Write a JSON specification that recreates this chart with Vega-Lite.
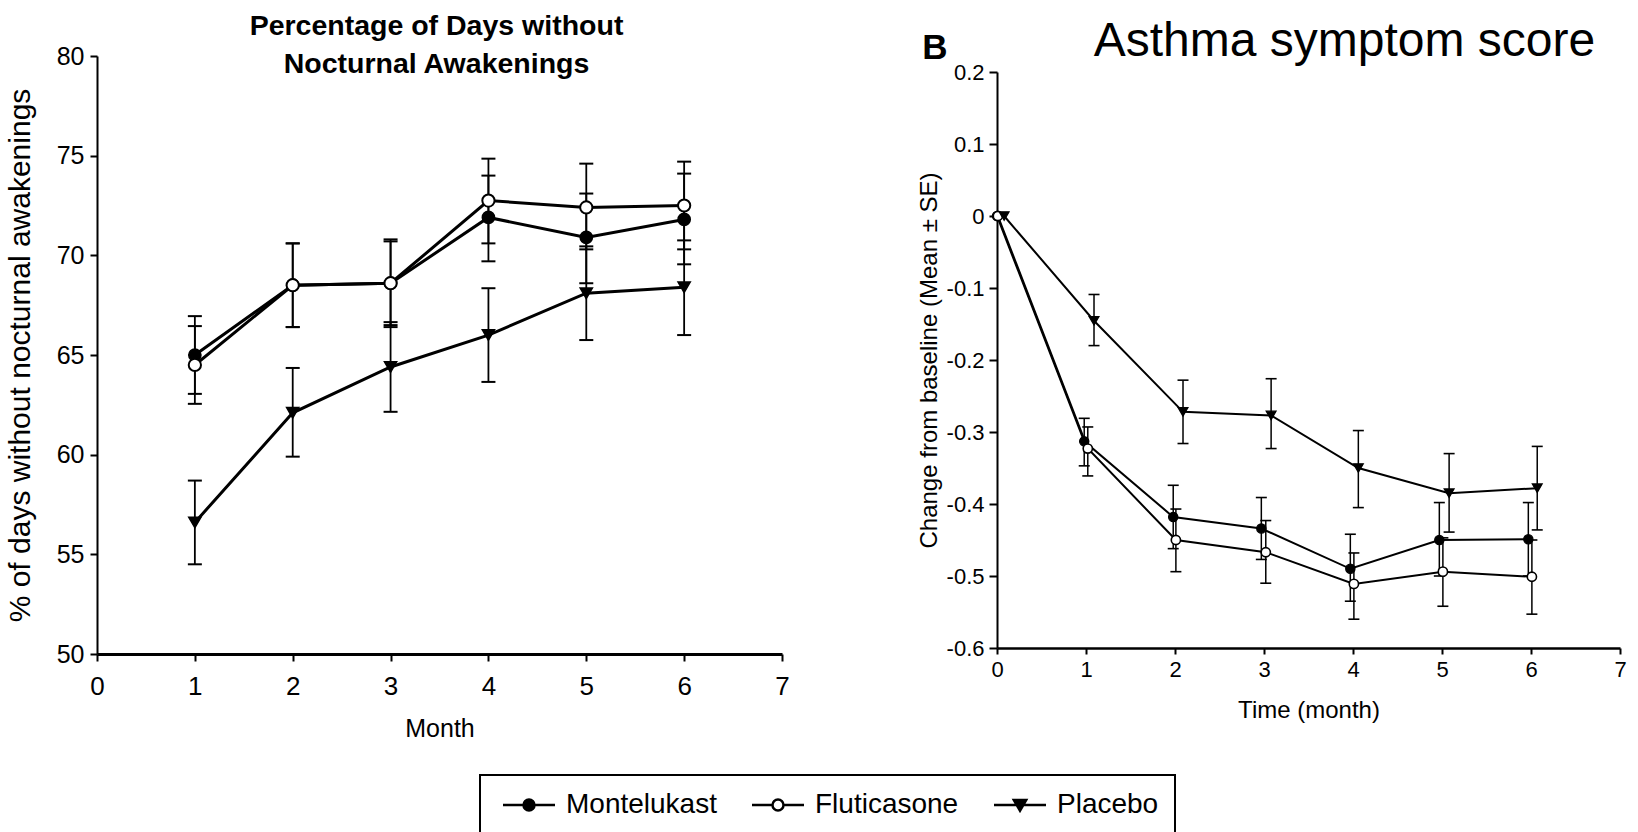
{
  "$schema": "https://vega.github.io/schema/vega-lite/v6.json",
  "background": "white",
  "autosize": {"type": "pad"},
  "padding": {"left": 5, "top": 11, "right": 0, "bottom": 0},
  "datasets": {
    "nocturnal": [
      {"drug": "Montelukast", "month": 1, "mean": 65.0, "lo": 63.05, "hi": 66.95},
      {"drug": "Montelukast", "month": 2, "mean": 68.5, "lo": 66.4, "hi": 70.6},
      {"drug": "Montelukast", "month": 3, "mean": 68.6, "lo": 66.5, "hi": 70.7},
      {"drug": "Montelukast", "month": 4, "mean": 71.9, "lo": 69.7, "hi": 74.0},
      {"drug": "Montelukast", "month": 5, "mean": 70.9, "lo": 68.6, "hi": 73.1},
      {"drug": "Montelukast", "month": 6, "mean": 71.8, "lo": 69.55, "hi": 74.1},
      {"drug": "Fluticasone", "month": 1, "mean": 64.5, "lo": 62.55, "hi": 66.45},
      {"drug": "Fluticasone", "month": 2, "mean": 68.5, "lo": 66.4, "hi": 70.6},
      {"drug": "Fluticasone", "month": 3, "mean": 68.6, "lo": 66.4, "hi": 70.8},
      {"drug": "Fluticasone", "month": 4, "mean": 72.75, "lo": 70.6, "hi": 74.85},
      {"drug": "Fluticasone", "month": 5, "mean": 72.4, "lo": 70.3, "hi": 74.6},
      {"drug": "Fluticasone", "month": 6, "mean": 72.5, "lo": 70.3, "hi": 74.7},
      {"drug": "Placebo", "month": 1, "mean": 56.6, "lo": 54.5, "hi": 58.7},
      {"drug": "Placebo", "month": 2, "mean": 62.1, "lo": 59.9, "hi": 64.35},
      {"drug": "Placebo", "month": 3, "mean": 64.4, "lo": 62.15, "hi": 66.65},
      {"drug": "Placebo", "month": 4, "mean": 66.0, "lo": 63.65, "hi": 68.35},
      {"drug": "Placebo", "month": 5, "mean": 68.1, "lo": 65.75, "hi": 70.45},
      {"drug": "Placebo", "month": 6, "mean": 68.4, "lo": 66.0, "hi": 70.75}
    ],
    "asthma": [
      {"drug": "Montelukast", "month": 0, "mean": 0},
      {"drug": "Montelukast", "month": 0.98, "mean": -0.313, "lo": -0.347, "hi": -0.281},
      {"drug": "Montelukast", "month": 1.98, "mean": -0.418, "lo": -0.462, "hi": -0.374},
      {"drug": "Montelukast", "month": 2.97, "mean": -0.434, "lo": -0.477, "hi": -0.391},
      {"drug": "Montelukast", "month": 3.97, "mean": -0.49, "lo": -0.535, "hi": -0.442},
      {"drug": "Montelukast", "month": 4.97, "mean": -0.45, "lo": -0.5, "hi": -0.398},
      {"drug": "Montelukast", "month": 5.97, "mean": -0.449, "lo": -0.5, "hi": -0.398},
      {"drug": "Fluticasone", "month": 0.01, "mean": 0},
      {"drug": "Fluticasone", "month": 1.02, "mean": -0.323, "lo": -0.361, "hi": -0.293},
      {"drug": "Fluticasone", "month": 2.01, "mean": -0.45, "lo": -0.494, "hi": -0.407},
      {"drug": "Fluticasone", "month": 3.02, "mean": -0.467, "lo": -0.51, "hi": -0.423},
      {"drug": "Fluticasone", "month": 4.01, "mean": -0.511, "lo": -0.56, "hi": -0.468},
      {"drug": "Fluticasone", "month": 5.01, "mean": -0.494, "lo": -0.542, "hi": -0.447},
      {"drug": "Fluticasone", "month": 6.01, "mean": -0.501, "lo": -0.553, "hi": -0.45},
      {"drug": "Placebo", "month": 0.08, "mean": 0},
      {"drug": "Placebo", "month": 1.09, "mean": -0.1455, "lo": -0.18, "hi": -0.109},
      {"drug": "Placebo", "month": 2.09, "mean": -0.272, "lo": -0.316, "hi": -0.228},
      {"drug": "Placebo", "month": 3.08, "mean": -0.277, "lo": -0.323, "hi": -0.226},
      {"drug": "Placebo", "month": 4.06, "mean": -0.35, "lo": -0.405, "hi": -0.298},
      {"drug": "Placebo", "month": 5.08, "mean": -0.385, "lo": -0.439, "hi": -0.33},
      {"drug": "Placebo", "month": 6.07, "mean": -0.378, "lo": -0.436, "hi": -0.32}
    ],
    "panelLabel": [
      {"label": "B", "lx": -0.697, "ly": 0.218}
    ]
  },
  "bounds": "flush",
  "center": true,
  "spacing": 215,
  "hconcat": [
    {
      "width": 685,
      "height": 598,
      "title": {
        "text": ["Percentage of Days without", "Nocturnal Awakenings"],
        "font": "Liberation Sans",
        "fontSize": 28.5,
        "fontWeight": "bold",
        "lineHeight": 38,
        "baseline": "alphabetic",
        "anchor": "middle",
        "frame": "group",
        "dx": -3,
        "offset": -57,
        "color": "black"
      },
      "data": {"name": "nocturnal"},
      "encoding": {
        "x": {
          "field": "month",
          "type": "quantitative",
          "scale": {"domain": [0, 7], "nice": false, "zero": false},
          "axis": {
            "title": "Month",
            "values": [0, 1, 2, 3, 4, 5, 6, 7],
            "labelFont": "Liberation Sans",
            "labelFontSize": 26,
            "titleFont": "Liberation Sans",
            "titleFontSize": 25,
            "domainWidth": 3,
            "tickWidth": 2,
            "tickSize": 7,
            "labelPadding": 12,
            "titlePadding": 17
          }
        }
      },
      "layer": [
        {
          "mark": {"type": "rule", "color": "black", "strokeWidth": 1.8},
          "encoding": {
            "y": {
              "field": "lo", "type": "quantitative",
              "scale": {"domain": [50, 80], "nice": false, "zero": false},
              "axis": {"title": "% of days without nocturnal awakenings", "values": [50, 55, 60, 65, 70, 75, 80], "labelFont": "Liberation Sans", "labelFontSize": 25, "titleFont": "Liberation Sans", "titleFontSize": 30, "domainWidth": 2, "tickWidth": 2, "tickSize": 7, "labelPadding": 6, "titlePadding": 21}
            },
            "y2": {"field": "hi"}
          }
        },
        {
          "mark": {"type": "tick", "orient": "horizontal", "size": 14, "thickness": 2, "color": "black", "opacity": 1},
          "encoding": {
            "y": {
              "field": "lo", "type": "quantitative",
              "scale": {"domain": [50, 80], "nice": false, "zero": false},
              "axis": {"title": "% of days without nocturnal awakenings", "values": [50, 55, 60, 65, 70, 75, 80], "labelFont": "Liberation Sans", "labelFontSize": 25, "titleFont": "Liberation Sans", "titleFontSize": 30, "domainWidth": 2, "tickWidth": 2, "tickSize": 7, "labelPadding": 6, "titlePadding": 21}
            }
          }
        },
        {
          "mark": {"type": "tick", "orient": "horizontal", "size": 14, "thickness": 2, "color": "black", "opacity": 1},
          "encoding": {
            "y": {
              "field": "hi", "type": "quantitative",
              "scale": {"domain": [50, 80], "nice": false, "zero": false},
              "axis": {"title": "% of days without nocturnal awakenings", "values": [50, 55, 60, 65, 70, 75, 80], "labelFont": "Liberation Sans", "labelFontSize": 25, "titleFont": "Liberation Sans", "titleFontSize": 30, "domainWidth": 2, "tickWidth": 2, "tickSize": 7, "labelPadding": 6, "titlePadding": 21}
            }
          }
        },
        {
          "mark": {"type": "line", "color": "black", "strokeWidth": 3},
          "encoding": {
            "y": {
              "field": "mean", "type": "quantitative",
              "scale": {"domain": [50, 80], "nice": false, "zero": false},
              "axis": {"title": "% of days without nocturnal awakenings", "values": [50, 55, 60, 65, 70, 75, 80], "labelFont": "Liberation Sans", "labelFontSize": 25, "titleFont": "Liberation Sans", "titleFontSize": 30, "domainWidth": 2, "tickWidth": 2, "tickSize": 7, "labelPadding": 6, "titlePadding": 21}
            },
            "detail": {"field": "drug", "type": "nominal"}
          }
        },
        {
          "transform": [{"filter": "datum.drug === 'Montelukast'"}],
          "mark": {"type": "point", "shape": "circle", "filled": true, "fill": "black", "stroke": "black", "strokeWidth": 1.5, "opacity": 1, "size": 150},
          "encoding": {
            "y": {
              "field": "mean", "type": "quantitative",
              "scale": {"domain": [50, 80], "nice": false, "zero": false},
              "axis": {"title": "% of days without nocturnal awakenings", "values": [50, 55, 60, 65, 70, 75, 80], "labelFont": "Liberation Sans", "labelFontSize": 25, "titleFont": "Liberation Sans", "titleFontSize": 30, "domainWidth": 2, "tickWidth": 2, "tickSize": 7, "labelPadding": 6, "titlePadding": 21}
            }
          }
        },
        {
          "transform": [{"filter": "datum.drug === 'Fluticasone'"}],
          "mark": {"type": "point", "shape": "circle", "filled": true, "fill": "white", "stroke": "black", "strokeWidth": 2, "opacity": 1, "size": 150},
          "encoding": {
            "y": {
              "field": "mean", "type": "quantitative",
              "scale": {"domain": [50, 80], "nice": false, "zero": false},
              "axis": {"title": "% of days without nocturnal awakenings", "values": [50, 55, 60, 65, 70, 75, 80], "labelFont": "Liberation Sans", "labelFontSize": 25, "titleFont": "Liberation Sans", "titleFontSize": 30, "domainWidth": 2, "tickWidth": 2, "tickSize": 7, "labelPadding": 6, "titlePadding": 21}
            }
          }
        },
        {
          "transform": [{"filter": "datum.drug === 'Placebo'"}],
          "mark": {"type": "point", "shape": "triangle-down", "filled": true, "fill": "black", "stroke": "black", "strokeWidth": 1.5, "opacity": 1, "size": 150},
          "encoding": {
            "y": {
              "field": "mean", "type": "quantitative",
              "scale": {"domain": [50, 80], "nice": false, "zero": false},
              "axis": {"title": "% of days without nocturnal awakenings", "values": [50, 55, 60, 65, 70, 75, 80], "labelFont": "Liberation Sans", "labelFontSize": 25, "titleFont": "Liberation Sans", "titleFontSize": 30, "domainWidth": 2, "tickWidth": 2, "tickSize": 7, "labelPadding": 6, "titlePadding": 21}
            }
          }
        },
        {
          "transform": [{"filter": "false"}],
          "mark": {"type": "point", "filled": true, "stroke": "black", "strokeWidth": 2.5, "opacity": 1},
          "encoding": {
            "y": {
              "field": "mean", "type": "quantitative",
              "scale": {"domain": [50, 80], "nice": false, "zero": false},
              "axis": {"title": "% of days without nocturnal awakenings", "values": [50, 55, 60, 65, 70, 75, 80], "labelFont": "Liberation Sans", "labelFontSize": 25, "titleFont": "Liberation Sans", "titleFontSize": 30, "domainWidth": 2, "tickWidth": 2, "tickSize": 7, "labelPadding": 6, "titlePadding": 21}
            },
            "shape": {
              "field": "drug",
              "type": "nominal",
              "scale": {
                "domain": ["Montelukast", "Fluticasone", "Placebo"],
                "range": [
                  "M-2.6,0H2.6M0.55,0A0.55,0.55 0 1 1 -0.55,0A0.55,0.55 0 1 1 0.55,0Z",
                  "M-2.6,0H-0.55M0.55,0H2.6M0.55,0A0.55,0.55 0 1 1 -0.55,0A0.55,0.55 0 1 1 0.55,0Z",
                  "M-2.6,0H2.6M-0.62,-0.5L0.62,-0.5L0,0.58Z"
                ]
              },
              "legend": {
                "title": null, "orient": "none", "legendX": 383, "legendY": 719, "direction": "horizontal",
                "encode": {"symbols": {"stroke": {"value": "black"}, "strokeWidth": {"value": 2.5}, "opacity": {"value": 1}}}
              }
            },
            "fill": {
              "field": "drug",
              "type": "nominal",
              "scale": {"domain": ["Montelukast", "Fluticasone", "Placebo"], "range": ["black", "white", "black"]},
              "legend": {
                "title": null, "orient": "none", "legendX": 383, "legendY": 719, "direction": "horizontal",
                "encode": {"symbols": {"stroke": {"value": "black"}, "strokeWidth": {"value": 2.5}, "opacity": {"value": 1}}}
              }
            }
          }
        }
      ]
    },
    {
      "width": 623,
      "height": 586,
      "title": {
        "text": "Asthma symptom score",
        "font": "Liberation Sans",
        "fontSize": 48,
        "fontWeight": "normal",
        "baseline": "alphabetic",
        "anchor": "middle",
        "frame": "group",
        "dx": 36,
        "offset": -73,
        "color": "black"
      },
      "data": {"name": "asthma"},
      "encoding": {
        "x": {
          "field": "month",
          "type": "quantitative",
          "scale": {"domain": [0, 7], "nice": false, "zero": false},
          "axis": {
            "title": "Time (month)",
            "values": [0, 1, 2, 3, 4, 5, 6, 7],
            "labelFont": "Liberation Sans",
            "labelFontSize": 22,
            "titleFont": "Liberation Sans",
            "titleFontSize": 24,
            "domainWidth": 2.5,
            "tickWidth": 2,
            "tickSize": 6,
            "labelPadding": 5,
            "titlePadding": 18
          }
        }
      },
      "layer": [
        {
          "transform": [{"filter": "datum.lo != null"}],
          "mark": {"type": "rule", "color": "black", "strokeWidth": 1.5},
          "encoding": {
            "y": {
              "field": "lo", "type": "quantitative",
              "scale": {"domain": [-0.6, 0.2], "range": [586, 10], "nice": false, "zero": false},
              "axis": {"title": "Change from baseline (Mean ± SE)", "values": [-0.6, -0.5, -0.4, -0.3, -0.2, -0.1, 0, 0.1, 0.2], "labelExpr": "datum.value == 0 ? '0' : replace(format(datum.value, '.1f'), '\u2212', '-')", "labelFont": "Liberation Sans", "labelFontSize": 22, "titleFont": "Liberation Sans", "titleFontSize": 24, "domainWidth": 2, "tickWidth": 2, "tickSize": 8, "labelPadding": 5, "titlePadding": 5}
            },
            "y2": {"field": "hi"}
          }
        },
        {
          "transform": [{"filter": "datum.lo != null"}],
          "mark": {"type": "tick", "orient": "horizontal", "size": 11, "thickness": 1.6, "color": "black", "opacity": 1},
          "encoding": {
            "y": {
              "field": "lo", "type": "quantitative",
              "scale": {"domain": [-0.6, 0.2], "range": [586, 10], "nice": false, "zero": false},
              "axis": {"title": "Change from baseline (Mean ± SE)", "values": [-0.6, -0.5, -0.4, -0.3, -0.2, -0.1, 0, 0.1, 0.2], "labelExpr": "datum.value == 0 ? '0' : replace(format(datum.value, '.1f'), '\u2212', '-')", "labelFont": "Liberation Sans", "labelFontSize": 22, "titleFont": "Liberation Sans", "titleFontSize": 24, "domainWidth": 2, "tickWidth": 2, "tickSize": 8, "labelPadding": 5, "titlePadding": 5}
            }
          }
        },
        {
          "transform": [{"filter": "datum.hi != null"}],
          "mark": {"type": "tick", "orient": "horizontal", "size": 11, "thickness": 1.6, "color": "black", "opacity": 1},
          "encoding": {
            "y": {
              "field": "hi", "type": "quantitative",
              "scale": {"domain": [-0.6, 0.2], "range": [586, 10], "nice": false, "zero": false},
              "axis": {"title": "Change from baseline (Mean ± SE)", "values": [-0.6, -0.5, -0.4, -0.3, -0.2, -0.1, 0, 0.1, 0.2], "labelExpr": "datum.value == 0 ? '0' : replace(format(datum.value, '.1f'), '\u2212', '-')", "labelFont": "Liberation Sans", "labelFontSize": 22, "titleFont": "Liberation Sans", "titleFontSize": 24, "domainWidth": 2, "tickWidth": 2, "tickSize": 8, "labelPadding": 5, "titlePadding": 5}
            }
          }
        },
        {
          "mark": {"type": "line", "color": "black", "strokeWidth": 2},
          "encoding": {
            "y": {
              "field": "mean", "type": "quantitative",
              "scale": {"domain": [-0.6, 0.2], "range": [586, 10], "nice": false, "zero": false},
              "axis": {"title": "Change from baseline (Mean ± SE)", "values": [-0.6, -0.5, -0.4, -0.3, -0.2, -0.1, 0, 0.1, 0.2], "labelExpr": "datum.value == 0 ? '0' : replace(format(datum.value, '.1f'), '\u2212', '-')", "labelFont": "Liberation Sans", "labelFontSize": 22, "titleFont": "Liberation Sans", "titleFontSize": 24, "domainWidth": 2, "tickWidth": 2, "tickSize": 8, "labelPadding": 5, "titlePadding": 5}
            },
            "detail": {"field": "drug", "type": "nominal"}
          }
        },
        {
          "transform": [{"filter": "datum.drug === 'Montelukast'"}],
          "mark": {"type": "point", "shape": "circle", "filled": true, "fill": "black", "stroke": "black", "strokeWidth": 1.3, "opacity": 1, "size": 85},
          "encoding": {
            "y": {
              "field": "mean", "type": "quantitative",
              "scale": {"domain": [-0.6, 0.2], "range": [586, 10], "nice": false, "zero": false},
              "axis": {"title": "Change from baseline (Mean ± SE)", "values": [-0.6, -0.5, -0.4, -0.3, -0.2, -0.1, 0, 0.1, 0.2], "labelExpr": "datum.value == 0 ? '0' : replace(format(datum.value, '.1f'), '\u2212', '-')", "labelFont": "Liberation Sans", "labelFontSize": 22, "titleFont": "Liberation Sans", "titleFontSize": 24, "domainWidth": 2, "tickWidth": 2, "tickSize": 8, "labelPadding": 5, "titlePadding": 5}
            }
          }
        },
        {
          "transform": [{"filter": "datum.drug === 'Fluticasone'"}],
          "mark": {"type": "point", "shape": "circle", "filled": true, "fill": "white", "stroke": "black", "strokeWidth": 1.6, "opacity": 1, "size": 85},
          "encoding": {
            "y": {
              "field": "mean", "type": "quantitative",
              "scale": {"domain": [-0.6, 0.2], "range": [586, 10], "nice": false, "zero": false},
              "axis": {"title": "Change from baseline (Mean ± SE)", "values": [-0.6, -0.5, -0.4, -0.3, -0.2, -0.1, 0, 0.1, 0.2], "labelExpr": "datum.value == 0 ? '0' : replace(format(datum.value, '.1f'), '\u2212', '-')", "labelFont": "Liberation Sans", "labelFontSize": 22, "titleFont": "Liberation Sans", "titleFontSize": 24, "domainWidth": 2, "tickWidth": 2, "tickSize": 8, "labelPadding": 5, "titlePadding": 5}
            }
          }
        },
        {
          "transform": [{"filter": "datum.drug === 'Placebo'"}],
          "mark": {"type": "point", "shape": "triangle-down", "filled": true, "fill": "black", "stroke": "black", "strokeWidth": 1.3, "opacity": 1, "size": 95},
          "encoding": {
            "y": {
              "field": "mean", "type": "quantitative",
              "scale": {"domain": [-0.6, 0.2], "range": [586, 10], "nice": false, "zero": false},
              "axis": {"title": "Change from baseline (Mean ± SE)", "values": [-0.6, -0.5, -0.4, -0.3, -0.2, -0.1, 0, 0.1, 0.2], "labelExpr": "datum.value == 0 ? '0' : replace(format(datum.value, '.1f'), '\u2212', '-')", "labelFont": "Liberation Sans", "labelFontSize": 22, "titleFont": "Liberation Sans", "titleFontSize": 24, "domainWidth": 2, "tickWidth": 2, "tickSize": 8, "labelPadding": 5, "titlePadding": 5}
            }
          }
        },
        {
          "data": {"name": "panelLabel"},
          "mark": {"type": "text", "font": "Liberation Sans", "fontSize": 35, "fontWeight": "bold", "align": "center", "baseline": "alphabetic", "color": "black"},
          "encoding": {
            "x": {"field": "lx", "type": "quantitative"},
            "y": {
              "field": "ly", "type": "quantitative",
              "scale": {"domain": [-0.6, 0.2], "range": [586, 10], "nice": false, "zero": false},
              "axis": {"title": "Change from baseline (Mean ± SE)", "values": [-0.6, -0.5, -0.4, -0.3, -0.2, -0.1, 0, 0.1, 0.2], "labelExpr": "datum.value == 0 ? '0' : replace(format(datum.value, '.1f'), '\u2212', '-')", "labelFont": "Liberation Sans", "labelFontSize": 22, "titleFont": "Liberation Sans", "titleFontSize": 24, "domainWidth": 2, "tickWidth": 2, "tickSize": 8, "labelPadding": 5, "titlePadding": 5}
            },
            "text": {"field": "label"}
          }
        }
      ]
    }
  ],
  "config": {
    "view": {"stroke": null},
    "axis": {
      "grid": false,
      "domainColor": "black",
      "tickColor": "black",
      "labelColor": "black",
      "titleColor": "black",
      "titleFontWeight": "normal",
      "labelFlush": false,
      "labelOverlap": false
    },
    "legend": {
      "strokeColor": "black",
      "strokeWidth": 2,
      "padding": 16,
      "labelFont": "Liberation Sans",
      "labelFontSize": 28,
      "labelColor": "black",
      "symbolSize": 400,
      "symbolOffset": 19,
      "labelOffset": 23,
      "columnPadding": 28,
      "symbolStrokeWidth": 2.5,
      "symbolOpacity": 1,
      "fillColor": "white"
    }
  }
}
